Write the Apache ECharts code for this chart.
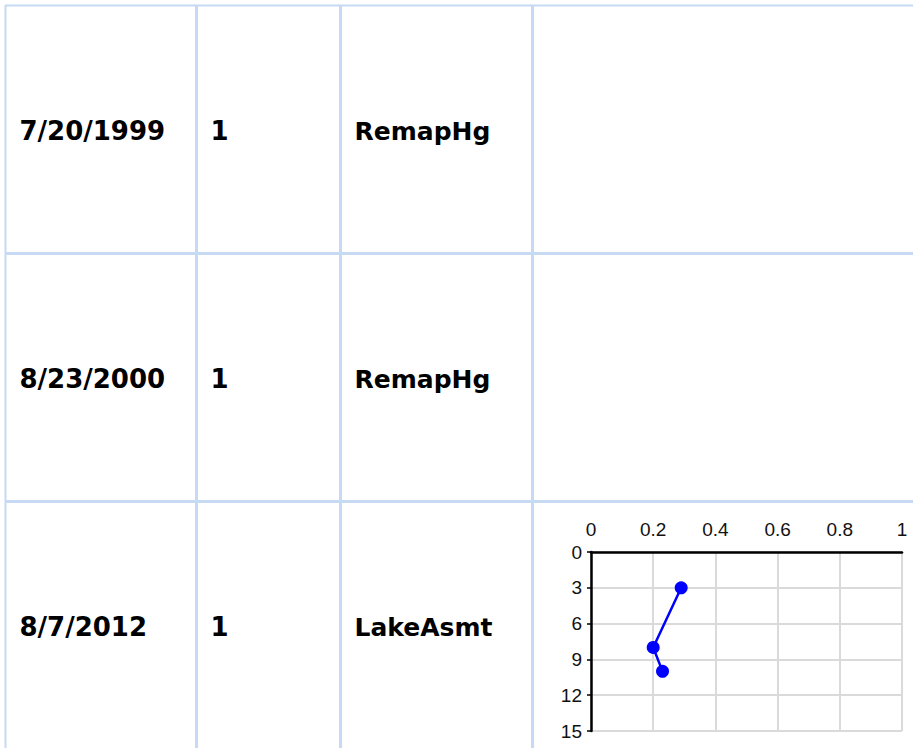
<!DOCTYPE html>
<html>
<head>
<meta charset="utf-8">
<script src="https://cdn.jsdelivr.net/npm/echarts@6/dist/echarts.min.js"></script>
<style>
html,body{margin:0;padding:0;background:#fff;}
#main{width:913px;height:748px;}
</style>
</head>
<body>
<div id="main"></div>
<script>
// ---- data ----
const dates = ['7/20/1999', '8/23/2000', '8/7/2012'];
const counts = ['1', '1', '1'];
const programs = ['RemapHg', 'RemapHg', 'LakeAsmt'];
// profile in the last row: value (x) vs depth (y)
const profileValues = [0.29, 0.20, 0.23];
const profileDepths = [3, 8, 10];
const xMin = 0, xMax = 1, xStep = 0.2;
const yMin = 0, yMax = 15, yStep = 3;

// ---- layout ----
const rowEdges = [5.5, 253.5, 501.5, 749.5];
const colEdges = [5.5, 196.5, 340.5, 532.5, 914];
const colFontSizes = [26, 26, 25];
const lineColor = '#c6daf3';
const pad = 14;

const graphics = [];
rowEdges.slice(0, 3).forEach((y, i) => {
  graphics.push({type: 'line', shape: {x1: 5, y1: y, x2: 913, y2: y},
    style: {stroke: lineColor, lineWidth: i === 0 ? 2 : 3}, silent: true});
});
colEdges.slice(0, 4).forEach((x, i) => {
  graphics.push({type: 'line', shape: {x1: x, y1: 5, x2: x, y2: 748},
    style: {stroke: lineColor, lineWidth: i === 0 ? 2 : 3}, silent: true});
});
const cols = [dates, counts, programs];
cols.forEach((arr, c) => {
  arr.forEach((t, r) => {
    const cy = (rowEdges[r] + rowEdges[r + 1]) / 2 + 1.5;
    graphics.push({type: 'text', x: colEdges[c] + pad, y: cy,
      style: {text: t, fill: '#000', fontSize: colFontSizes[c], fontWeight: 'bold', fontFamily: 'DejaVu Sans',
        verticalAlign: 'middle'}, silent: true});
  });
});

const chart = echarts.init(document.getElementById('main'), null, {renderer: 'svg'});
chart.setOption({
  animation: false,
  backgroundColor: '#fff',
  grid: {left: 591, top: 552, width: 311, height: 179, containLabel: false},
  xAxis: {
    type: 'value', position: 'top', min: xMin, max: xMax, interval: xStep,
    axisLine: {show: true, onZero: false, lineStyle: {color: '#000', width: 2.5}},
    axisTick: {show: false},
    axisLabel: {margin: 13, color: '#111', fontSize: 19, fontFamily: 'Liberation Sans'},
    splitLine: {show: true, lineStyle: {color: '#dadada', width: 2}}
  },
  yAxis: {
    type: 'value', inverse: true, min: yMin, max: yMax, interval: yStep,
    axisLine: {show: true, onZero: false, lineStyle: {color: '#000', width: 2.5}},
    axisTick: {show: true, length: 4, lineStyle: {color: '#000', width: 1.5}},
    axisLabel: {margin: 9, color: '#111', fontSize: 19, fontFamily: 'Liberation Sans'},
    splitLine: {show: true, lineStyle: {color: '#dadada', width: 2}}
  },
  series: [{
    type: 'line',
    data: profileValues.map((v, i) => [v, profileDepths[i]]),
    symbol: 'circle', symbolSize: 13,
    itemStyle: {color: '#0000ff'},
    lineStyle: {color: '#0000ff', width: 2.5}
  }],
  graphic: graphics
});
</script>
</body>
</html>
